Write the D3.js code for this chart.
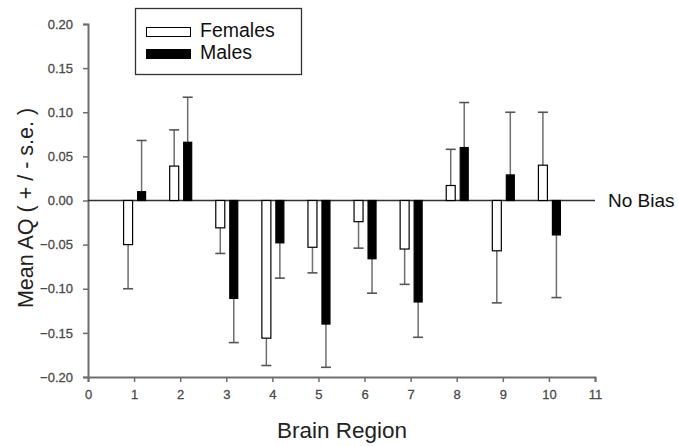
<!DOCTYPE html>
<meta charset="utf-8">
<script src="https://d3js.org/d3.v7.min.js"></script>
<style>
  body { margin: 0; background: #fff; }
  text { font-family: "Liberation Sans", Arial, sans-serif; }
</style>
<div id="chart"></div>
<script>

// data
const regions = [1, 2, 3, 4, 5, 6, 7, 8, 9, 10];
const femaleMean = [-0.050, 0.039, -0.031, -0.156, -0.053, -0.024, -0.055, 0.017, -0.057, 0.040];
const femaleSE   = [0.050, 0.041, 0.029, 0.031, 0.029, 0.030, 0.040, 0.041, 0.059, 0.060];
const maleMean   = [0.010, 0.066, -0.111, -0.048, -0.140, -0.066, -0.115, 0.060, 0.029, -0.039];
const maleSE     = [0.058, 0.051, 0.050, 0.040, 0.049, 0.039, 0.040, 0.051, 0.071, 0.071];
const xTicks = [0, 1, 2, 3, 4, 5, 6, 7, 8, 9, 10, 11];
const yTicks = [-0.20, -0.15, -0.10, -0.05, 0.00, 0.05, 0.10, 0.15, 0.20];

const width = 678, height = 446;
const plot = {left: 88, right: 595, top: 24, bottom: 377};
const axisColor = "#6e6e6e";

const svg = d3.select("#chart")
  .append("svg")
  .attr("width", width)
  .attr("height", height);

const x = d3.scaleLinear().domain([0, 11]).range([plot.left, plot.right]);
const y = d3.scaleLinear().domain([-0.2, 0.2]).range([plot.bottom, plot.top]);

// axes
const xAxis = svg.append("g")
  .attr("transform", `translate(0,${plot.bottom})`)
  .call(d3.axisBottom(x).tickValues(xTicks).tickSize(5).tickPadding(8).tickFormat(d3.format("d")));
const yAxis = svg.append("g")
  .attr("transform", `translate(${plot.left},0)`)
  .call(d3.axisLeft(y).tickValues(yTicks).tickSize(5).tickPadding(10).tickFormat(d3.format(".2f")));

[xAxis, yAxis].forEach(a => {
  a.select(".domain").attr("stroke", axisColor).attr("stroke-width", 2);
  a.selectAll(".tick line").attr("stroke", axisColor).attr("stroke-width", 1.5);
  a.selectAll(".tick text")
    .attr("fill", "#4a4a4a")
    .attr("stroke", "#4a4a4a")
    .attr("stroke-width", 0.3)
    .style("font-size", "13px");
});

// zero line
svg.append("line")
  .attr("x1", x(0)).attr("x2", x(11))
  .attr("y1", y(0)).attr("y2", y(0))
  .attr("stroke", "#333")
  .attr("stroke-width", 1.3);

const series = [
  {name: "Females", mean: femaleMean, se: femaleSE, fill: "#fff", dx0: -11, dx1: -1},
  {name: "Males", mean: maleMean, se: maleSE, fill: "#000", dx0: 3, dx1: 12}
];

series.forEach(s => {
  const rows = regions.map((r, i) => ({r, m: s.mean[i], e: s.se[i]}));
  const g = svg.append("g");

  // error bars: only the side pointing away from zero
  const tip = d => d.m >= 0 ? d.m + d.e : d.m - d.e;
  const cx = d => x(d.r) + (s.dx0 + s.dx1) / 2;

  g.selectAll(".err")
    .data(rows)
    .join("line")
      .attr("x1", cx).attr("x2", cx)
      .attr("y1", d => y(d.m)).attr("y2", d => y(tip(d)))
      .attr("stroke", axisColor).attr("stroke-width", 1.5);
  g.selectAll(".cap")
    .data(rows)
    .join("line")
      .attr("x1", d => cx(d) - 5).attr("x2", d => cx(d) + 5)
      .attr("y1", d => y(tip(d))).attr("y2", d => y(tip(d)))
      .attr("stroke", "#555").attr("stroke-width", 1.6);

  g.selectAll("rect")
    .data(rows)
    .join("rect")
      .attr("x", d => x(d.r) + s.dx0 + 0.5)
      .attr("width", s.dx1 - s.dx0 - 1)
      .attr("y", d => y(Math.max(0, d.m)))
      .attr("height", d => Math.abs(y(d.m) - y(0)))
      .attr("fill", s.fill)
      .attr("stroke", "#000")
      .attr("stroke-width", 1.2);
});

// legend
const legend = svg.append("g");
legend.append("rect")
  .attr("x", 135.5).attr("y", 8.5)
  .attr("width", 166).attr("height", 66)
  .attr("fill", "#fff").attr("stroke", "#333").attr("stroke-width", 1.3);
series.forEach((s, i) => {
  legend.append("rect")
    .attr("x", 146.5).attr("y", 27.5 + i * 22)
    .attr("width", 44).attr("height", 9)
    .attr("fill", s.fill).attr("stroke", "#000").attr("stroke-width", 1);
  legend.append("text")
    .attr("x", 200).attr("y", 37 + i * 22)
    .style("font-size", "19.5px")
    .attr("fill", "#111")
    .text(s.name);
});

// labels
svg.append("text")
  .attr("x", 608).attr("y", y(0))
  .attr("dy", "0.35em")
  .style("font-size", "19px")
  .attr("fill", "#111")
  .text("No Bias");

svg.append("text")
  .attr("x", 342).attr("y", 438)
  .attr("text-anchor", "middle")
  .style("font-size", "22.5px")
  .attr("fill", "#222")
  .text("Brain Region");

svg.append("text")
  .attr("transform", `translate(33,208) rotate(-90)`)
  .attr("text-anchor", "middle")
  .style("font-size", "21.5px")
  .attr("fill", "#222")
  .text("Mean AQ ( + / - s.e. )");

</script>
